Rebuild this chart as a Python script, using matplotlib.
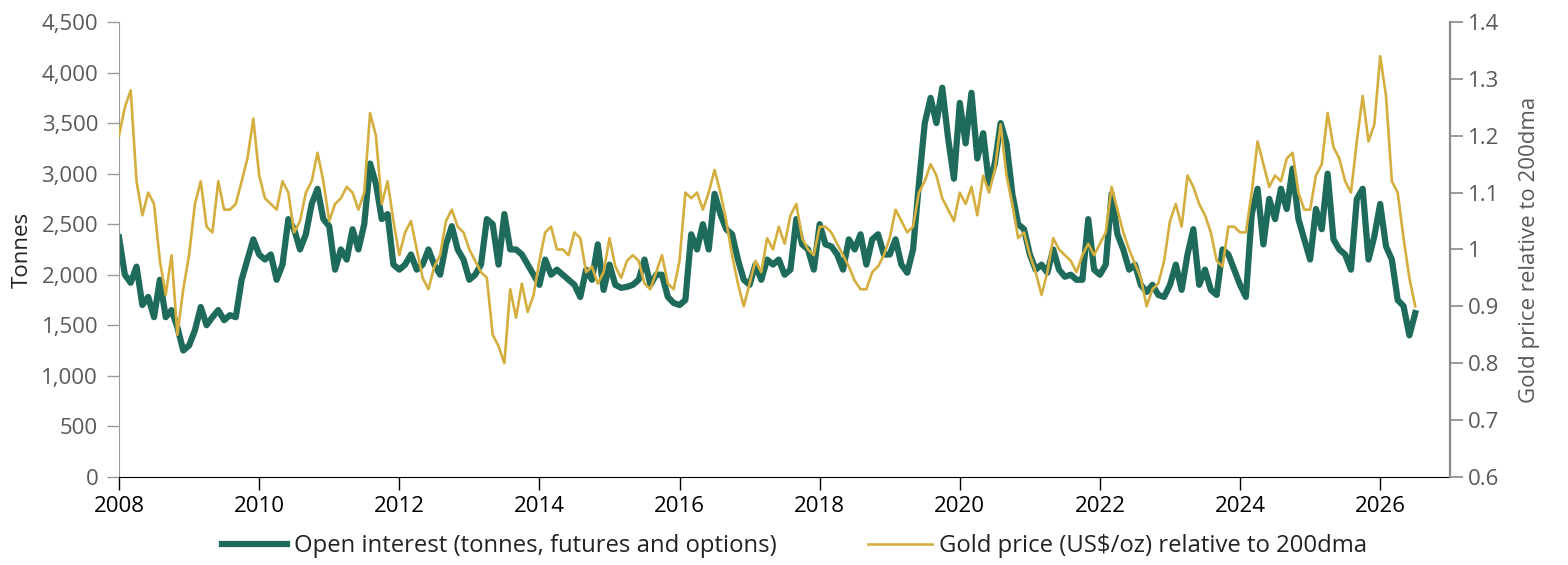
import numpy as np
import matplotlib
matplotlib.use("Agg")
import matplotlib.pyplot as plt
from matplotlib.ticker import FuncFormatter, MultipleLocator

plt.rcParams['font.family'] = ['Open Sans', 'DejaVu Sans']

# monthly readings, Jan 2008 onwards
open_interest = [
    2370, 2000, 1920, 2080, 1700, 1780, 1580, 1950, 1580, 1650, 1480, 1250,  # 2008
    1300, 1450, 1680, 1500, 1580, 1650, 1550, 1600, 1580, 1950, 2150, 2350,  # 2009
    2200, 2150, 2200, 1950, 2100, 2550, 2450, 2250, 2400, 2700, 2850, 2550,  # 2010
    2480, 2050, 2250, 2150, 2450, 2250, 2500, 3100, 2900, 2550, 2600, 2100,  # 2011
    2050, 2100, 2200, 2050, 2100, 2250, 2100, 2000, 2300, 2480, 2250, 2150,  # 2012
    1950, 2000, 2100, 2550, 2500, 2100, 2600, 2250, 2250, 2200, 2100, 2000,  # 2013
    1900, 2150, 2000, 2050, 2000, 1950, 1900, 1780, 2050, 1950, 2300, 1850,  # 2014
    2100, 1900, 1870, 1880, 1900, 1950, 2150, 1900, 2000, 2000, 1780, 1720,  # 2015
    1700, 1750, 2400, 2250, 2500, 2250, 2800, 2600, 2450, 2400, 2150, 1950,  # 2016
    1900, 2100, 1950, 2150, 2100, 2150, 2000, 2050, 2550, 2300, 2250, 2050,  # 2017
    2500, 2300, 2280, 2200, 2050, 2350, 2250, 2400, 2100, 2350, 2400, 2200,  # 2018
    2200, 2350, 2100, 2020, 2250, 2900, 3500, 3750, 3500, 3850, 3350, 2950,  # 2019
    3700, 3300, 3800, 3150, 3400, 2900, 3100, 3500, 3300, 2800, 2500, 2450,  # 2020
    2200, 2050, 2100, 2020, 2250, 2050, 1980, 2000, 1950, 1950, 2550, 2050,  # 2021
    2000, 2100, 2800, 2400, 2250, 2050, 2100, 1900, 1830, 1900, 1800, 1780,  # 2022
    1900, 2100, 1850, 2200, 2450, 1900, 2050, 1850, 1800, 2250, 2200, 2050,  # 2023
    1900, 1780, 2600, 2850, 2300, 2750, 2550, 2850, 2650, 3050, 2550, 2350,  # 2024
    2150, 2650, 2450, 3000, 2350, 2250, 2200, 2050, 2750, 2850, 2150, 2380,  # 2025
    2700, 2280, 2150, 1750, 1690, 1400, 1620,                                # 2026
]

gold_ratio = [
    1.20, 1.25, 1.28, 1.12, 1.06, 1.10, 1.08, 0.98, 0.92, 0.99, 0.85, 0.93,  # 2008
    0.99, 1.08, 1.12, 1.04, 1.03, 1.12, 1.07, 1.07, 1.08, 1.12, 1.16, 1.23,  # 2009
    1.13, 1.09, 1.08, 1.07, 1.12, 1.10, 1.03, 1.05, 1.10, 1.12, 1.17, 1.12,  # 2010
    1.05, 1.08, 1.09, 1.11, 1.10, 1.07, 1.10, 1.24, 1.20, 1.08, 1.12, 1.05,  # 2011
    0.99, 1.03, 1.05, 1.00, 0.95, 0.93, 0.97, 0.99, 1.05, 1.07, 1.04, 1.03,  # 2012
    1.00, 0.98, 0.96, 0.95, 0.85, 0.83, 0.80, 0.93, 0.88, 0.94, 0.89, 0.92,  # 2013
    0.98, 1.03, 1.04, 1.00, 1.00, 0.99, 1.03, 1.02, 0.96, 0.97, 0.94, 0.96,  # 2014
    1.02, 0.97, 0.95, 0.98, 0.99, 0.98, 0.94, 0.93, 0.96, 0.99, 0.94, 0.93,  # 2015
    0.98, 1.10, 1.09, 1.10, 1.07, 1.10, 1.14, 1.10, 1.05, 0.99, 0.94, 0.90,  # 2016
    0.94, 0.98, 0.96, 1.02, 1.00, 1.04, 1.01, 1.06, 1.08, 1.02, 1.00, 0.99,  # 2017
    1.04, 1.04, 1.03, 1.01, 0.99, 0.97, 0.945, 0.93, 0.93, 0.96, 0.97, 0.99, # 2018
    1.02, 1.07, 1.05, 1.03, 1.04, 1.10, 1.12, 1.15, 1.13, 1.09, 1.07, 1.05,  # 2019
    1.10, 1.08, 1.11, 1.06, 1.13, 1.10, 1.14, 1.22, 1.13, 1.08, 1.02, 1.03,  # 2020
    0.99, 0.96, 0.92, 0.96, 1.02, 1.00, 0.99, 0.98, 0.96, 0.99, 1.01, 0.99,  # 2021
    1.01, 1.03, 1.11, 1.07, 1.03, 1.00, 0.975, 0.95, 0.90, 0.93, 0.94, 0.98, # 2022
    1.05, 1.08, 1.04, 1.13, 1.11, 1.08, 1.06, 1.03, 0.98, 0.97, 1.04, 1.04,  # 2023
    1.03, 1.03, 1.10, 1.19, 1.15, 1.11, 1.13, 1.12, 1.16, 1.17, 1.10, 1.07,  # 2024
    1.07, 1.13, 1.15, 1.24, 1.18, 1.16, 1.12, 1.10, 1.19, 1.27, 1.19, 1.22,  # 2025
    1.34, 1.27, 1.12, 1.10, 1.02, 0.95, 0.90,                                # 2026
]

start_year = 2008
years = start_year + np.arange(len(open_interest)) / 12.0

green = '#1f6b5b'
gold = '#d4ae3e'
grey = '#595959'

fig = plt.figure(figsize=(15.68, 5.65), dpi=100)
ax = fig.add_axes([0.0759, 0.156, 0.849, 0.805])
ax2 = ax.twinx()

l1, = ax.plot(years, open_interest, color=green, lw=4.5, solid_joinstyle='round',
              label='Open interest (tonnes, futures and options)', zorder=2)
l2, = ax2.plot(years, gold_ratio, color=gold, lw=1.9,
               label='Gold price (US$/oz) relative to 200dma', zorder=3)

ax.set_xlim(2008, 2027)
ax.set_ylim(0, 4500)
ax2.set_ylim(0.6, 1.4)

ax.xaxis.set_major_locator(MultipleLocator(2))
ax.xaxis.set_major_formatter(FuncFormatter(lambda v, p: f'{int(round(v))}'))
ax.yaxis.set_major_locator(MultipleLocator(500))
ax.yaxis.set_major_formatter(FuncFormatter(lambda v, p: f'{int(v):,}'))
ax2.yaxis.set_major_locator(MultipleLocator(0.1))
ax2.yaxis.set_major_formatter(FuncFormatter(lambda v, p: f'{round(v, 1):g}'))

for a in (ax, ax2):
    a.spines['top'].set_visible(False)
ax.spines['right'].set_visible(False)
ax2.spines['left'].set_visible(False)
ax2.spines['bottom'].set_visible(False)
ax.spines['left'].set_color('#9a9a9a')
ax2.spines['right'].set_color('#8a8a8a')
ax2.spines['right'].set_linewidth(1.6)
ax.spines['bottom'].set_color('black')

ax.tick_params(axis='x', length=9, width=1, color='black', labelsize=16, labelcolor='black', pad=5)
ax.tick_params(axis='y', length=9, width=1, color='#9a9a9a', labelsize=16, labelcolor=grey, pad=6)
ax2.tick_params(axis='y', length=9, width=1.2, color='#8a8a8a', labelsize=16, labelcolor=grey, pad=4)

ax.set_ylabel('Tonnes', fontsize=16, color='#222222', labelpad=6)
ax2.set_ylabel('Gold price relative to 200dma', fontsize=16, color=grey, labelpad=14)

fig.legend(handles=[l1, l2], loc='center', bbox_to_anchor=(0.507, 0.033), ncol=2,
           frameon=False, fontsize=17.2, handlelength=2.7, handletextpad=0.3,
           columnspacing=3.8, labelcolor='#222222')

fig.savefig('out.png', dpi=100)
